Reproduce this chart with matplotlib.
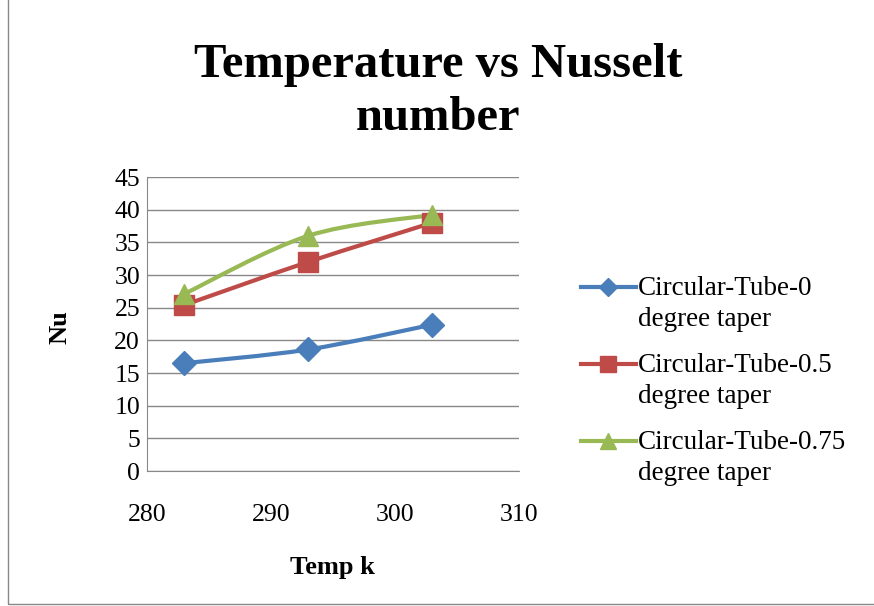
import numpy as np
import matplotlib.pyplot as plt
from matplotlib.path import Path
from matplotlib.patches import PathPatch, Rectangle
from matplotlib.lines import Line2D

plt.rcParams['font.family'] = ['Liberation Serif', 'DejaVu Serif']

temps = [283, 293, 303]
nu_0 = [16.5, 18.6, 22.4]
nu_05 = [25.4, 32.0, 38.0]
nu_075 = [27.1, 36.0, 39.2]
labels = ['Circular-Tube-0\ndegree taper',
          'Circular-Tube-0.5\ndegree taper',
          'Circular-Tube-0.75\ndegree taper']
colors = ['#4A7EBB', '#BE4B48', '#98B954']
markers = ['D', 's', '^']
msizes = [12, 14, 15]
leg_msizes = [9, 11, 11]

W, H = 874, 606


def fx(px):
    return px / W


def fy(py):
    return 1 - py / H


def smooth_path(x, y, t=1/6):
    # Excel-style smoothed line: cubic bezier segments through the points
    x = np.asarray(x, float); y = np.asarray(y, float)
    verts = [(x[0], y[0])]
    codes = [Path.MOVETO]
    n = len(x)
    for i in range(n - 1):
        p0 = np.array([x[max(i - 1, 0)], y[max(i - 1, 0)]])
        p1 = np.array([x[i], y[i]])
        p2 = np.array([x[i + 1], y[i + 1]])
        p3 = np.array([x[min(i + 2, n - 1)], y[min(i + 2, n - 1)]])
        c1 = p1 + (p2 - p0) * t
        c2 = p2 - (p3 - p1) * t
        verts += [tuple(c1), tuple(c2), tuple(p2)]
        codes += [Path.CURVE4] * 3
    return Path(verts, codes)


fig = plt.figure(figsize=(W / 100, H / 100), dpi=100)
fig.patches.append(Rectangle((fx(8), fy(604)), 1.2, 1.2, transform=fig.transFigure,
                             fill=False, edgecolor='#888888', lw=1))

ax = fig.add_axes([fx(147), fy(471), fx(519 - 147), (471 - 177) / H])

for ys, c, m, ms in zip([nu_0, nu_05, nu_075], colors, markers, msizes):
    ax.add_patch(PathPatch(smooth_path(temps, ys), fill=False, edgecolor=c,
                           lw=3, capstyle='round', joinstyle='round', zorder=3))
    ax.plot(temps, ys, ls='none', marker=m, ms=ms, color=c, zorder=4)

ax.set_xlim(280, 310)
ax.set_ylim(0, 45)
ax.set_xticks([280, 290, 300, 310])
ax.set_yticks(range(0, 46, 5))
ax.yaxis.grid(True, color='#888888', lw=1)
ax.set_axisbelow(True)
for s in ['top', 'right']:
    ax.spines[s].set_visible(False)
for s in ['left', 'bottom']:
    ax.spines[s].set_color('#888888')
ax.tick_params(length=0, labelsize=18.5)
ax.tick_params(axis='y', pad=5)
ax.tick_params(axis='x', pad=24)

# title, two lines as in the original
fig.text(fx(438), fy(77), 'Temperature vs Nusselt', ha='center', va='baseline',
         fontsize=35, fontweight='bold')
fig.text(fx(438), fy(130), 'number', ha='center', va='baseline',
         fontsize=35, fontweight='bold')
fig.text(fx(60), fy(327), 'Nu', rotation=90, ha='center', va='center',
         fontsize=19, fontweight='bold')
fig.text(fx(332), fy(574), 'Temp k', ha='center', va='baseline',
         fontsize=19, fontweight='bold')

# legend: marker lines aligned with the first text line, like Excel
for i, (lab, c, m, ms) in enumerate(zip(labels, colors, markers, leg_msizes)):
    base = 295 + i * 77
    fig.add_artist(Line2D([fx(581), fx(608), fx(636)], [fy(base - 8)] * 3,
                          transform=fig.transFigure, color=c, lw=3,
                          marker=m, ms=ms, markevery=[1]))
    line1, line2 = lab.split('\n')
    fig.text(fx(638), fy(base), line1, ha='left', va='baseline', fontsize=19.5)
    fig.text(fx(638), fy(base + 31), line2, ha='left', va='baseline', fontsize=19.5)

fig.savefig('out.png', dpi=100)
